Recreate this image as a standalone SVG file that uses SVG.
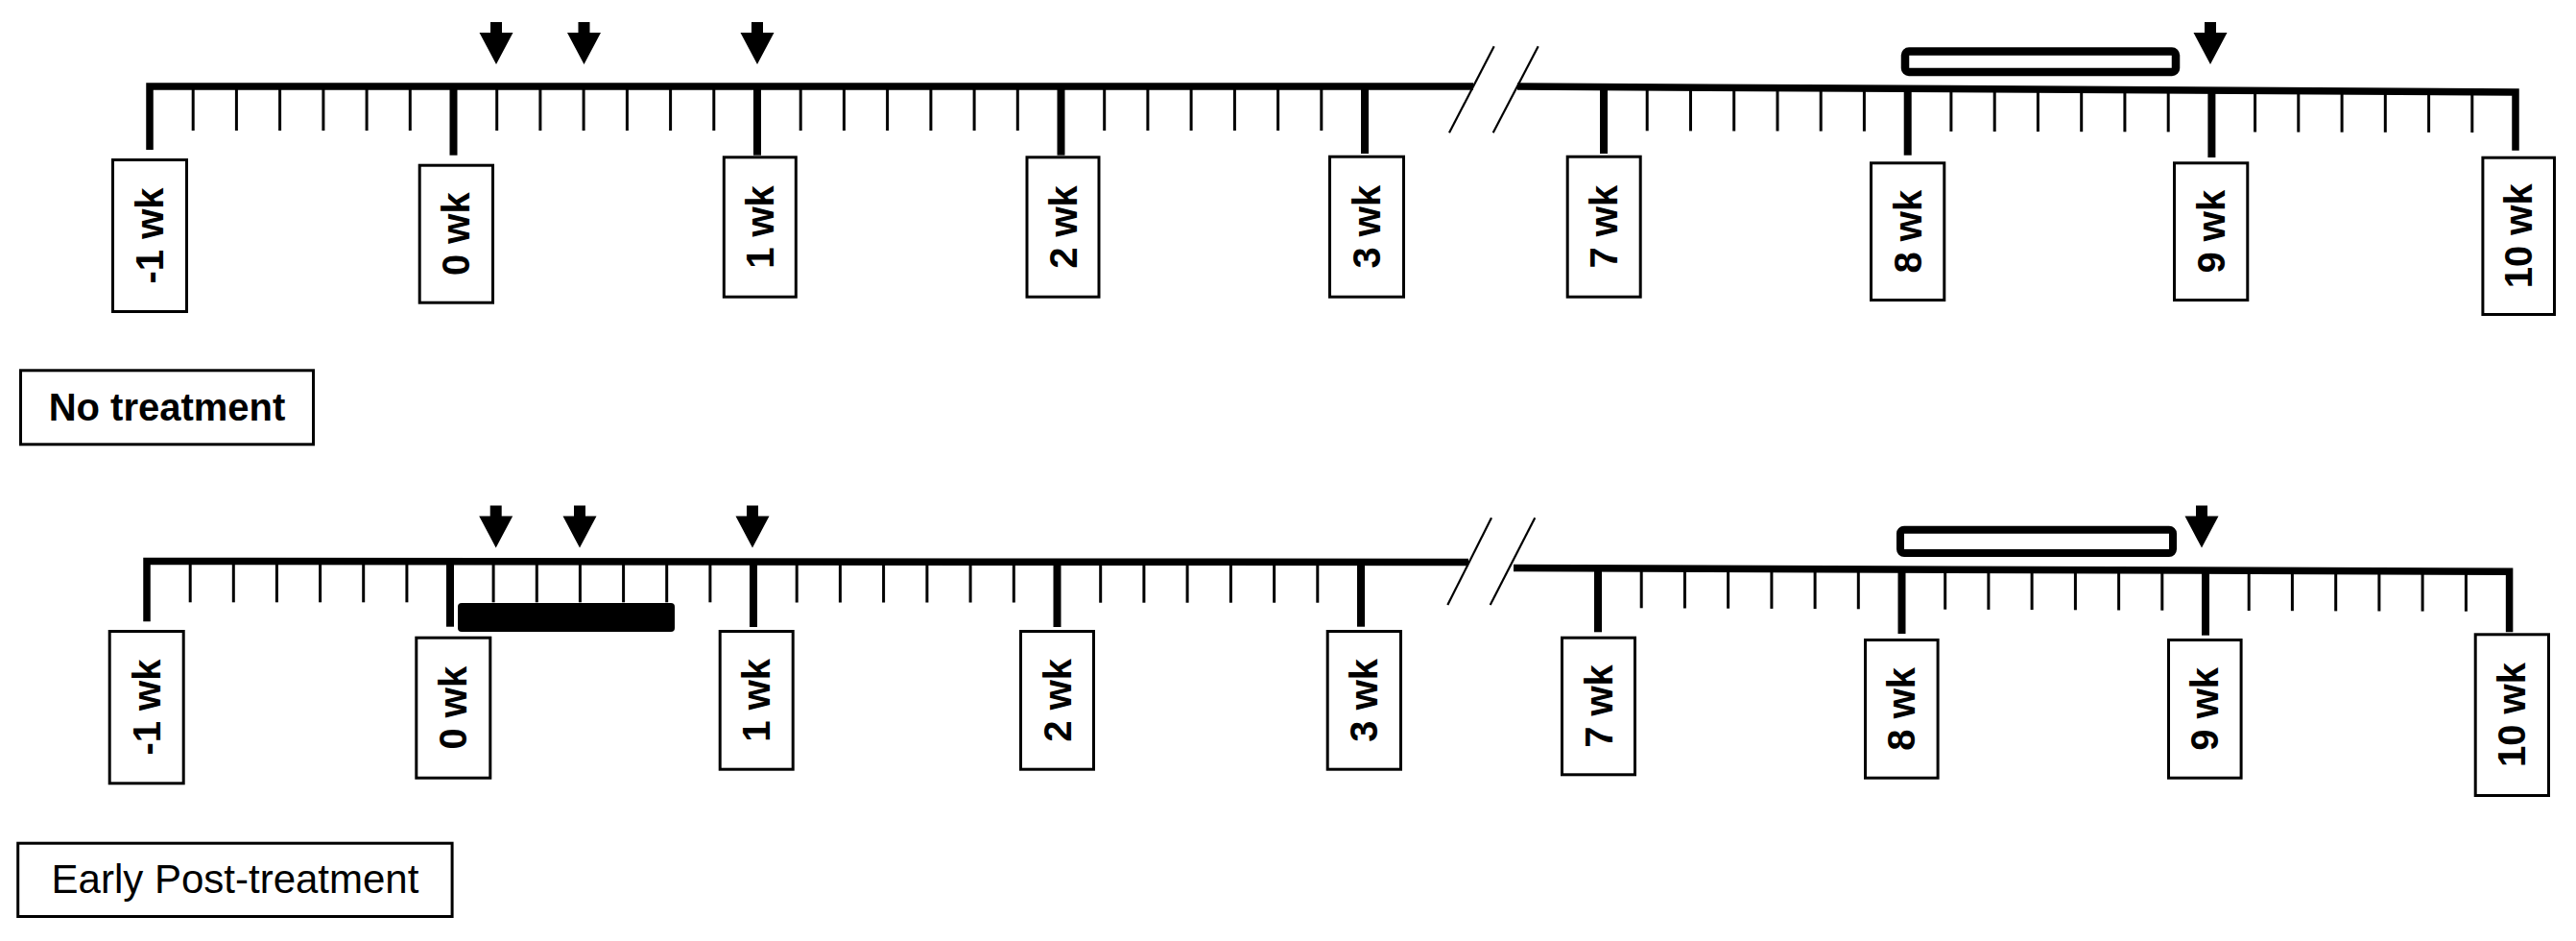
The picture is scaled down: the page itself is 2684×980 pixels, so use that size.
<svg xmlns="http://www.w3.org/2000/svg" width="2684" height="980" viewBox="0 0 2684 980">
<defs>
<style>
.axis{fill:none;stroke:#000;stroke-width:7.5;stroke-linejoin:miter;stroke-linecap:butt}
.major{stroke:#000;stroke-width:8;stroke-linecap:butt}
.minor{stroke:#000;stroke-width:3;stroke-linecap:butt}
.brk{stroke:#000;stroke-width:2.2;stroke-linecap:butt}
.box{fill:#fff;stroke:#000;stroke-width:3}
.wk{font-family:"Liberation Sans",Arial,sans-serif;font-weight:bold;font-size:40px;fill:#000;text-anchor:middle}
.title{fill:#fff;stroke:#000;stroke-width:3}
.t1{font-family:"Liberation Sans",Arial,sans-serif;font-weight:bold;font-size:40px;fill:#000;text-anchor:middle}
.t2{font-family:"Liberation Sans",Arial,sans-serif;font-size:42px;fill:#000;text-anchor:middle}
.openbar{fill:#fff;stroke:#000;stroke-width:8.5}
</style>
<path id="arr" d="M-6,0 H6 V11 H17.5 L0,44 L-17.5,11 H-6 Z" fill="#000"/>
</defs>
<rect width="2684" height="980" fill="#fff"/>

<!-- ===== TOP TIMELINE ===== -->
<g id="top-axis">
<path class="axis" d="M156,156 L156,90 L1535,90"/>
<path class="axis" d="M1581,90 L2621,96 L2621,156.7"/>
<line class="brk" x1="1510" y1="138.3" x2="1556.7" y2="48.3"/>
<line class="brk" x1="1555.7" y1="138.3" x2="1602.7" y2="48.3"/>
<line class="major" x1="472.5" y1="90" x2="472.5" y2="161.7"/>
<line class="major" x1="789" y1="90" x2="789" y2="161.7"/>
<line class="major" x1="1105.5" y1="90" x2="1105.5" y2="161.7"/>
<line class="major" x1="1422" y1="90" x2="1422" y2="160"/>
<line class="major" x1="1671" y1="90" x2="1671" y2="160"/>
<line class="major" x1="1987.7" y1="92" x2="1987.7" y2="161.7"/>
<line class="major" x1="2304.4" y1="93.5" x2="2304.4" y2="164"/>
<g class="minor">
<line x1="201.2" y1="90" x2="201.2" y2="136"/><line x1="246.4" y1="90" x2="246.4" y2="136"/><line x1="291.6" y1="90" x2="291.6" y2="136"/><line x1="336.9" y1="90" x2="336.9" y2="136"/><line x1="382.1" y1="90" x2="382.1" y2="136"/><line x1="427.3" y1="90" x2="427.3" y2="136"/>
<line x1="517.7" y1="90" x2="517.7" y2="136"/><line x1="562.9" y1="90" x2="562.9" y2="136"/><line x1="608.1" y1="90" x2="608.1" y2="136"/><line x1="653.4" y1="90" x2="653.4" y2="136"/><line x1="698.6" y1="90" x2="698.6" y2="136"/><line x1="743.8" y1="90" x2="743.8" y2="136"/>
<line x1="834.2" y1="90" x2="834.2" y2="136"/><line x1="879.4" y1="90" x2="879.4" y2="136"/><line x1="924.6" y1="90" x2="924.6" y2="136"/><line x1="969.9" y1="90" x2="969.9" y2="136"/><line x1="1015.1" y1="90" x2="1015.1" y2="136"/><line x1="1060.3" y1="90" x2="1060.3" y2="136"/>
<line x1="1150.7" y1="90" x2="1150.7" y2="136"/><line x1="1195.9" y1="90" x2="1195.9" y2="136"/><line x1="1241.1" y1="90" x2="1241.1" y2="136"/><line x1="1286.4" y1="90" x2="1286.4" y2="136"/><line x1="1331.6" y1="90" x2="1331.6" y2="136"/><line x1="1376.8" y1="90" x2="1376.8" y2="136"/>
<line x1="1716.2" y1="90.5" x2="1716.2" y2="136.3"/><line x1="1761.5" y1="91" x2="1761.5" y2="136.4"/><line x1="1806.7" y1="91" x2="1806.7" y2="136.5"/><line x1="1852" y1="91.3" x2="1852" y2="136.5"/><line x1="1897.2" y1="91.6" x2="1897.2" y2="136.6"/><line x1="1942.4" y1="91.8" x2="1942.4" y2="136.7"/>
<line x1="2032.9" y1="92.4" x2="2032.9" y2="136.9"/><line x1="2078.2" y1="92.6" x2="2078.2" y2="137"/><line x1="2123.4" y1="92.9" x2="2123.4" y2="137.1"/><line x1="2168.7" y1="93.2" x2="2168.7" y2="137.2"/><line x1="2213.9" y1="93.4" x2="2213.9" y2="137.3"/><line x1="2259.2" y1="93.7" x2="2259.2" y2="137.4"/>
<line x1="2349.6" y1="94.2" x2="2349.6" y2="137.5"/><line x1="2394.8" y1="94.5" x2="2394.8" y2="137.6"/><line x1="2440.1" y1="94.7" x2="2440.1" y2="137.7"/><line x1="2485.3" y1="95" x2="2485.3" y2="137.8"/><line x1="2530.6" y1="95.3" x2="2530.6" y2="137.9"/><line x1="2575.8" y1="95.5" x2="2575.8" y2="138"/>
</g>
<rect class="openbar" x="1985" y="53.5" width="282" height="21.5" rx="4"/>
</g>

<g id="top-arrows">
<use href="#arr" x="517" y="23"/>
<use href="#arr" x="608.5" y="23"/>
<use href="#arr" x="789" y="23"/>
<use href="#arr" x="2303" y="23"/>
</g>

<g id="top-wk-m1"><rect class="box" x="117.5" y="166.5" width="77" height="158"/><text class="wk" x="0" y="14" transform="translate(156,245.5) rotate(-90)">-1 wk</text></g>
<g id="top-wk-0"><rect class="box" x="437.2" y="172.2" width="76.3" height="143"/><text class="wk" x="0" y="14" transform="translate(475.3,243.7) rotate(-90)">0 wk</text></g>
<g id="top-wk-1"><rect class="box" x="754.3" y="163.8" width="75" height="145.4"/><text class="wk" x="0" y="14" transform="translate(791.8,236.5) rotate(-90)">1 wk</text></g>
<g id="top-wk-2"><rect class="box" x="1070" y="163.8" width="75" height="145.4"/><text class="wk" x="0" y="14" transform="translate(1107.5,236.5) rotate(-90)">2 wk</text></g>
<g id="top-wk-3"><rect class="box" x="1385.5" y="163.2" width="77" height="146"/><text class="wk" x="0" y="14" transform="translate(1424,236.2) rotate(-90)">3 wk</text></g>
<g id="top-wk-7"><rect class="box" x="1633.2" y="163.2" width="76" height="146"/><text class="wk" x="0" y="14" transform="translate(1671.2,236.2) rotate(-90)">7 wk</text></g>
<g id="top-wk-8"><rect class="box" x="1949.5" y="169.8" width="76.3" height="142.7"/><text class="wk" x="0" y="14" transform="translate(1987.7,241.2) rotate(-90)">8 wk</text></g>
<g id="top-wk-9"><rect class="box" x="2265.5" y="169.8" width="76.3" height="142.7"/><text class="wk" x="0" y="14" transform="translate(2303.7,241.2) rotate(-90)">9 wk</text></g>
<g id="top-wk-10"><rect class="box" x="2586.9" y="164.2" width="74.6" height="163.3"/><text class="wk" x="0" y="14" transform="translate(2624.2,245.8) rotate(-90)">10 wk</text></g>

<g id="label-no-treatment"><rect class="title" x="21.5" y="385.8" width="305" height="77"/><text class="t1" x="174" y="438">No treatment</text></g>

<!-- ===== BOTTOM TIMELINE ===== -->
<g id="bottom-axis">
<path class="axis" d="M153,647.3 L153,584.5 L1530,585.5"/>
<path class="axis" d="M1577,591.5 L2614.6,595.3 L2614.6,658.3"/>
<line class="brk" x1="1508.3" y1="630" x2="1554" y2="539.3"/>
<line class="brk" x1="1552.7" y1="630" x2="1599.3" y2="539.3"/>
<line class="major" x1="469" y1="584.5" x2="469" y2="652.7"/>
<line class="major" x1="785" y1="584.5" x2="785" y2="653"/>
<line class="major" x1="1101.5" y1="585" x2="1101.5" y2="653"/>
<line class="major" x1="1418" y1="585" x2="1418" y2="652.7"/>
<line class="major" x1="1665" y1="591.8" x2="1665" y2="658.3"/>
<line class="major" x1="1981.5" y1="593" x2="1981.5" y2="660"/>
<line class="major" x1="2298" y1="594" x2="2298" y2="661.7"/>
<g class="minor">
<line x1="198.2" y1="584.5" x2="198.2" y2="627.3"/><line x1="243.3" y1="584.5" x2="243.3" y2="627.3"/><line x1="288.4" y1="584.5" x2="288.4" y2="627.3"/><line x1="333.6" y1="584.5" x2="333.6" y2="627.3"/><line x1="378.7" y1="584.5" x2="378.7" y2="627.3"/><line x1="423.9" y1="584.5" x2="423.9" y2="627.3"/>
<line x1="514.1" y1="584.5" x2="514.1" y2="627.3"/><line x1="559.3" y1="584.5" x2="559.3" y2="627.3"/><line x1="604.4" y1="584.5" x2="604.4" y2="627.3"/><line x1="649.6" y1="584.5" x2="649.6" y2="627.3"/><line x1="694.7" y1="584.5" x2="694.7" y2="627.3"/><line x1="739.9" y1="584.5" x2="739.9" y2="627.3"/>
<line x1="830.2" y1="585" x2="830.2" y2="627.5"/><line x1="875.4" y1="585" x2="875.4" y2="627.5"/><line x1="920.6" y1="585" x2="920.6" y2="627.5"/><line x1="965.9" y1="585" x2="965.9" y2="627.5"/><line x1="1011.1" y1="585" x2="1011.1" y2="627.5"/><line x1="1056.3" y1="585" x2="1056.3" y2="627.5"/>
<line x1="1146.7" y1="585" x2="1146.7" y2="627.7"/><line x1="1191.9" y1="585" x2="1191.9" y2="627.7"/><line x1="1237.1" y1="585" x2="1237.1" y2="627.7"/><line x1="1282.4" y1="585" x2="1282.4" y2="627.7"/><line x1="1327.6" y1="585" x2="1327.6" y2="627.7"/><line x1="1372.8" y1="585" x2="1372.8" y2="627.7"/>
<line x1="1710.2" y1="592" x2="1710.2" y2="633.3"/><line x1="1755.4" y1="592.2" x2="1755.4" y2="633.5"/><line x1="1800.6" y1="592.3" x2="1800.6" y2="633.7"/><line x1="1845.9" y1="592.5" x2="1845.9" y2="633.9"/><line x1="1891.1" y1="592.6" x2="1891.1" y2="634.1"/><line x1="1936.3" y1="592.8" x2="1936.3" y2="634.3"/>
<line x1="2026.7" y1="593.2" x2="2026.7" y2="634.7"/><line x1="2071.9" y1="593.3" x2="2071.9" y2="634.9"/><line x1="2117.1" y1="593.5" x2="2117.1" y2="635.1"/><line x1="2162.4" y1="593.7" x2="2162.4" y2="635.3"/><line x1="2207.6" y1="593.8" x2="2207.6" y2="635.5"/><line x1="2252.8" y1="594" x2="2252.8" y2="635.7"/>
<line x1="2343.2" y1="594.3" x2="2343.2" y2="636"/><line x1="2388.4" y1="594.5" x2="2388.4" y2="636.2"/><line x1="2433.7" y1="594.6" x2="2433.7" y2="636.4"/><line x1="2478.9" y1="594.8" x2="2478.9" y2="636.5"/><line x1="2524.1" y1="595" x2="2524.1" y2="636.6"/><line x1="2569.4" y1="595.1" x2="2569.4" y2="636.7"/>
</g>
<rect class="openbar" x="1980" y="551.7" width="284" height="24.3" rx="4" style="stroke-width:8"/>
<rect x="477" y="628" width="226" height="30" rx="4" fill="#000"/>
</g>

<g id="bottom-arrows">
<use href="#arr" x="516.7" y="526.5"/>
<use href="#arr" x="604" y="526.5"/>
<use href="#arr" x="784" y="526.5"/>
<use href="#arr" x="2294" y="526.5"/>
</g>

<g id="bot-wk-m1"><rect class="box" x="114.2" y="657.5" width="77" height="158.3"/><text class="wk" x="0" y="14" transform="translate(152.7,736.6) rotate(-90)">-1 wk</text></g>
<g id="bot-wk-0"><rect class="box" x="433.8" y="664.2" width="77" height="146"/><text class="wk" x="0" y="14" transform="translate(472.3,737.2) rotate(-90)">0 wk</text></g>
<g id="bot-wk-1"><rect class="box" x="750.2" y="657.5" width="76" height="143.7"/><text class="wk" x="0" y="14" transform="translate(788.2,729.3) rotate(-90)">1 wk</text></g>
<g id="bot-wk-2"><rect class="box" x="1063.5" y="657.5" width="76" height="143.7"/><text class="wk" x="0" y="14" transform="translate(1101.5,729.3) rotate(-90)">2 wk</text></g>
<g id="bot-wk-3"><rect class="box" x="1383.2" y="657.5" width="76.3" height="143.7"/><text class="wk" x="0" y="14" transform="translate(1421.3,729.3) rotate(-90)">3 wk</text></g>
<g id="bot-wk-7"><rect class="box" x="1627.5" y="664.2" width="76" height="142.6"/><text class="wk" x="0" y="14" transform="translate(1665.5,735.5) rotate(-90)">7 wk</text></g>
<g id="bot-wk-8"><rect class="box" x="1943.5" y="666.5" width="75.6" height="143.7"/><text class="wk" x="0" y="14" transform="translate(1981.3,738.3) rotate(-90)">8 wk</text></g>
<g id="bot-wk-9"><rect class="box" x="2259.5" y="666.5" width="75.6" height="143.7"/><text class="wk" x="0" y="14" transform="translate(2297.3,738.3) rotate(-90)">9 wk</text></g>
<g id="bot-wk-10"><rect class="box" x="2579.2" y="660.8" width="76.3" height="167.7"/><text class="wk" x="0" y="14" transform="translate(2617.3,744.6) rotate(-90)">10 wk</text></g>

<g id="label-early-post"><rect class="title" x="18.7" y="878.2" width="452.4" height="76.3"/><text class="t2" x="245" y="930">Early Post-treatment</text></g>
</svg>
